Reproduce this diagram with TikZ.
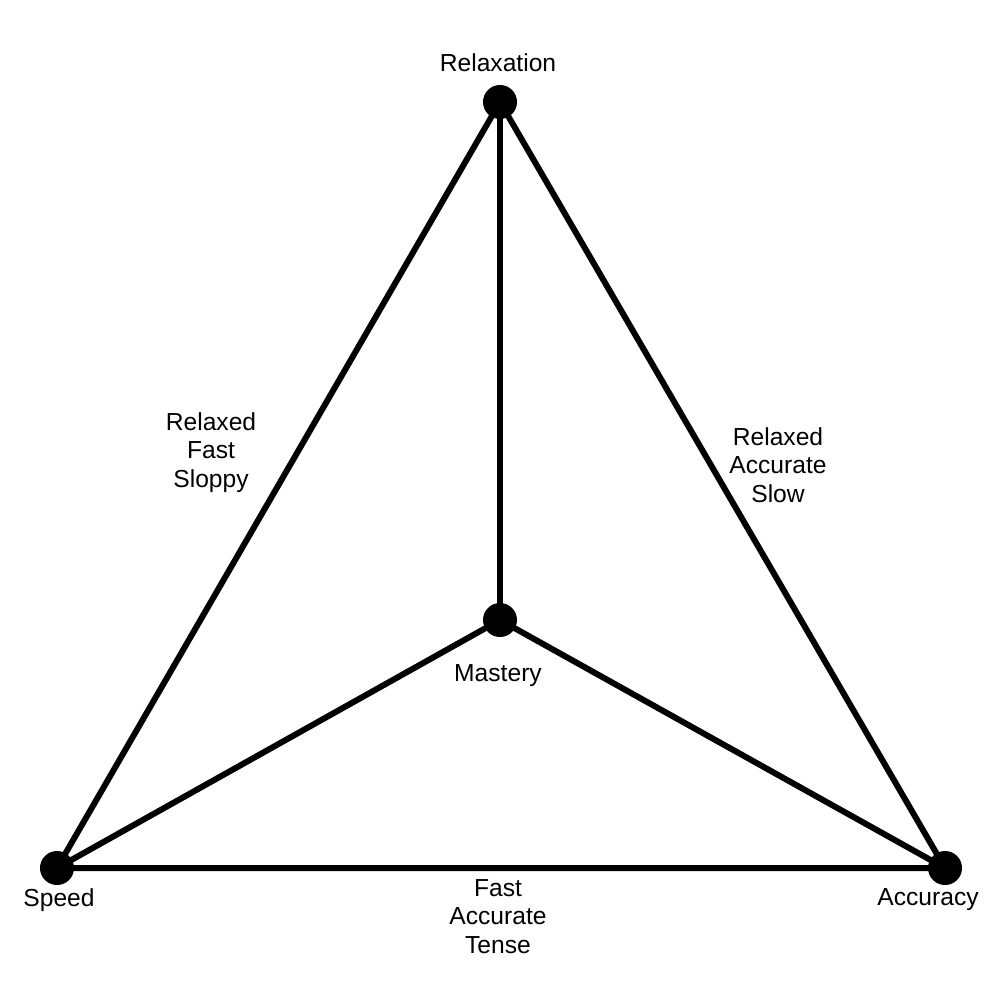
\documentclass[tikz,border=0pt]{standalone}
\usepackage{fontspec}
\setmainfont{Liberation Sans}
\begin{document}
\begin{tikzpicture}[x=0.01cm,y=-0.01cm,
  dot/.style={circle,fill=black,inner sep=0pt,minimum size=0.34cm},
  edge/.style={line width=1.7pt},
  lbl/.style={anchor=base,inner sep=0pt,font=\fontsize{7pt}{7.97pt}\selectfont,align=center}]
\useasboundingbox (0,0) rectangle (1000,1000);
\node[dot] (R) at (500,102) {};
\node[dot] (M) at (500,620) {};
\node[dot] (S) at (57,868) {};
\node[dot] (A) at (945,868) {};
\draw[edge] (R.center) -- (S.center) -- (A.center) -- (R.center) -- (M.center);
\draw[edge] (S.center) -- (M.center) -- (A.center);
\node[lbl] (tR) at (498,71) {Relaxation};
\node[lbl] (tM) at (498,681) {Mastery};
\node[lbl] (tS) at (59,906) {Speed};
\node[lbl] (tA) at (928,905) {Accuracy};
\node[lbl] (tL) at (211,487) {Relaxed\\Fast\\Sloppy};
\node[lbl] (tRt) at (778,502) {Relaxed\\Accurate\\Slow};
\node[lbl] (tB) at (498,953) {Fast\\Accurate\\Tense};
\end{tikzpicture}
\end{document}
